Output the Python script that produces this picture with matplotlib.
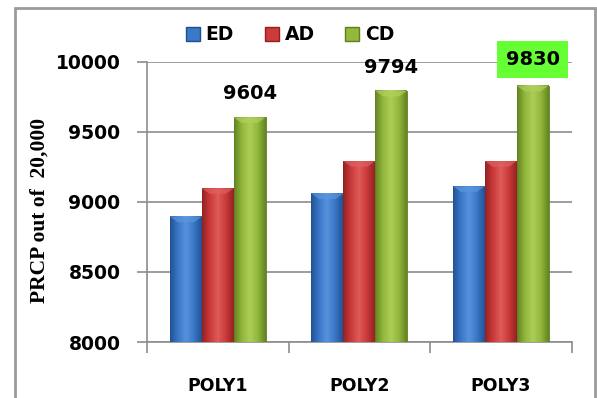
import numpy as np
import matplotlib
matplotlib.use("Agg")
import matplotlib.pyplot as plt
from matplotlib.colors import LinearSegmentedColormap
from matplotlib.lines import Line2D
from matplotlib.patches import Rectangle

categories = ["POLY1", "POLY2", "POLY3"]
series_names = ["ED", "AD", "CD"]
ed_values = [8895, 9060, 9112]
ad_values = [9098, 9292, 9292]
cd_values = [9604, 9794, 9830]
y_ticks = [8000, 8500, 9000, 9500, 10000]

colors = ["#3a78c8", "#cc3a3a", "#92b83c"]
dark = ["#1f4f8f", "#8f2020", "#5f7f1f"]
light = ["#5b95dd", "#e06060", "#b0d05a"]

fig = plt.figure(figsize=(5.97, 3.98), dpi=100)
W, H = 597, 398

# outer frame around the chart
fig.patches.append(Rectangle((15 / W, -0.05), (595 - 15) / W, 1.05 - 8 / H,
                             transform=fig.transFigure, fill=False,
                             edgecolor="#9a9a9a", linewidth=2))

ax = fig.add_axes([147 / W, (H - 342) / H, (571.5 - 147) / W, (342 - 62) / H])
ymin, ymax = 8000, 10000
ax.set_ylim(ymin, ymax)
ax.set_xlim(-0.5, 2.5)

x = np.arange(len(categories))
width = 0.225
all_values = [ed_values, ad_values, cd_values]

for i, vals in enumerate(all_values):
    bars = ax.bar(x + (i - 1) * width, vals, width, color=colors[i],
                  edgecolor=dark[i], linewidth=0.6, zorder=3)
    cmap = LinearSegmentedColormap.from_list(
        "bev", [dark[i], colors[i], light[i], colors[i], dark[i]])
    grad = np.linspace(0, 1, 64).reshape(1, -1)
    for rect in bars:
        x0 = rect.get_x()
        x1, y1 = x0 + rect.get_width(), rect.get_height()
        ax.imshow(grad, extent=[x0, x1, ymin, y1], aspect="auto",
                  cmap=cmap, zorder=3.5, alpha=0.9)
        # lighter bevel on top of each bar
        ax.fill([x0, x1, x1 - width * 0.25, x0 + width * 0.25],
                [y1, y1, y1 - 40, y1 - 40], color=light[i], alpha=0.7,
                zorder=4, linewidth=0)

ax.set_aspect("auto")
ax.set_xlim(-0.5, 2.5)
ax.set_ylim(ymin, ymax)

# value labels on the CD series
for j, v in enumerate(cd_values):
    kw = dict(ha="center", va="center", fontsize=14, fontweight="bold",
              textcoords="offset points", xytext=(0, 17), zorder=6)
    if j == len(cd_values) - 1:
        kw["xytext"] = (0, 19)
        kw["bbox"] = dict(boxstyle="square,pad=0.45", facecolor="#66ff33",
                          edgecolor="none")
    ax.annotate(str(v), (x[j] + width, v), **kw)

ax.set_yticks(y_ticks)
ax.set_yticklabels([str(t) for t in y_ticks], fontsize=13.5, fontweight="bold")
ax.yaxis.grid(True, color="#8c8c8c", linewidth=1.2, zorder=0)
ax.set_axisbelow(True)
ax.tick_params(axis="y", length=7, color="#8c8c8c", width=1.2, pad=12)

ax.set_xticks(x)
ax.set_xticklabels(categories, fontsize=12.5, fontweight="bold")
ax.set_xticks([-0.5, 0.5, 1.5, 2.5], minor=True)
ax.tick_params(axis="x", which="major", length=0, pad=25)
ax.tick_params(axis="x", which="minor", length=8, color="#8c8c8c", width=1.2)

for s in ["top", "right"]:
    ax.spines[s].set_visible(False)
for s in ["left", "bottom"]:
    ax.spines[s].set_color("#8c8c8c")
    ax.spines[s].set_linewidth(1.2)

fig.text(40 / W, 1 - 210 / H, "PRCP out of  20,000", rotation=90,
         ha="center", va="center", fontsize=15.5, fontweight="bold",
         family="Liberation Serif")

handles = [Line2D([], [], marker="s", linestyle="none", markersize=10,
                  markerfacecolor=c, markeredgecolor=d)
           for c, d in zip(colors, dark)]
fig.legend(handles, series_names, loc="center", ncol=3, frameon=False,
           bbox_to_anchor=(289 / W, 1 - 35 / H), handletextpad=0.2,
           columnspacing=1.5, handlelength=1.0,
           prop=dict(size=13.5, weight="bold"))

fig.savefig("out.png", dpi=100)
